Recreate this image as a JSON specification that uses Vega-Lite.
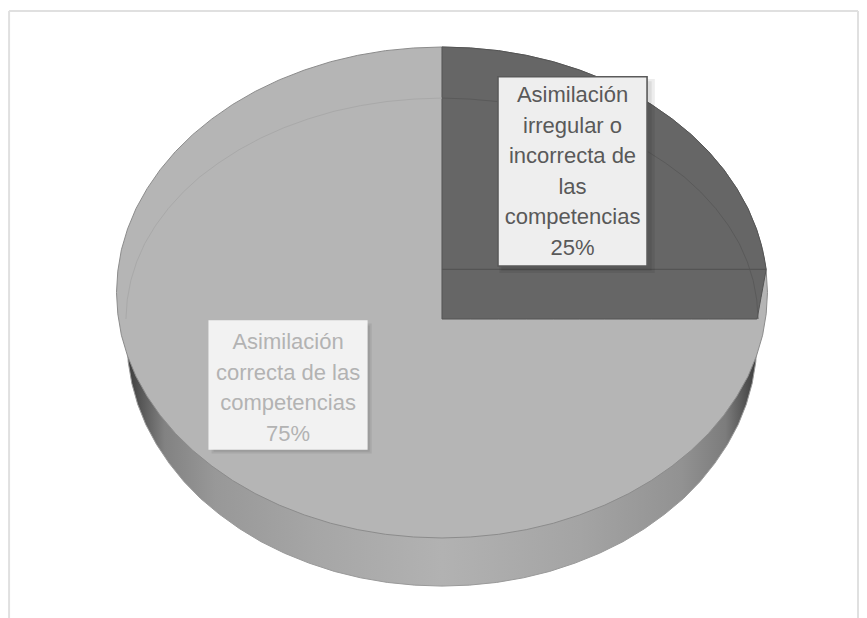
{
  "$schema": "https://vega.github.io/schema/vega-lite/v6.json",
  "width": 867,
  "height": 618,
  "padding": 0,
  "autosize": "none",
  "background": "#ffffff",
  "config": {"view": {"stroke": null}},
  "encoding": {
    "x": {"field": "x", "type": "quantitative", "axis": null, "scale": {"domain": [-135.79, 130.57], "nice": false, "zero": false}},
    "y": {"field": "y", "type": "quantitative", "axis": null, "scale": {"domain": [-132.59, 119.14], "nice": false, "zero": false}}
  },
  "layer": [
    {
      "data": {"values": [
        {"x": -96.8, "y": -19.6, "top": 0}, {"x": -96.4, "y": -28.3, "top": 0}, {"x": -95.3, "y": -37, "top": 0}, {"x": -93.5, "y": -45.5, "top": 0}, {"x": -91, "y": -53.8, "top": 0}, {"x": -87.7, "y": -61.9, "top": 0}, {"x": -83.8, "y": -69.6, "top": 0}, {"x": -79.3, "y": -77, "top": 0}, {"x": -74.2, "y": -83.9, "top": 0}, {"x": -68.4, "y": -90.3, "top": 0}, {"x": -62.2, "y": -96.2, "top": 0}, {"x": -55.6, "y": -101.5, "top": 0}, {"x": -48.4, "y": -106.2, "top": 0}, {"x": -40.9, "y": -110.2, "top": 0}, {"x": -33.1, "y": -113.6, "top": 0}, {"x": -25.1, "y": -116.2, "top": 0}, {"x": -16.8, "y": -118.1, "top": 0}, {"x": -8.4, "y": -119.2, "top": 0},
        {"x": 0, "y": -119.6, "top": 0},
        {"x": 8.4, "y": -119.2, "top": 0}, {"x": 16.8, "y": -118.1, "top": 0}, {"x": 25.1, "y": -116.2, "top": 0}, {"x": 33.1, "y": -113.6, "top": 0}, {"x": 40.9, "y": -110.2, "top": 0}, {"x": 48.4, "y": -106.2, "top": 0}, {"x": 55.6, "y": -101.5, "top": 0}, {"x": 62.2, "y": -96.2, "top": 0}, {"x": 68.4, "y": -90.3, "top": 0}, {"x": 74.2, "y": -83.9, "top": 0}, {"x": 79.3, "y": -77, "top": 0}, {"x": 83.8, "y": -69.6, "top": 0}, {"x": 87.7, "y": -61.9, "top": 0}, {"x": 91, "y": -53.8, "top": 0}, {"x": 93.5, "y": -45.5, "top": 0}, {"x": 95.3, "y": -37, "top": 0}, {"x": 96.4, "y": -28.3, "top": 0}, {"x": 96.8, "y": -19.6, "top": 0}
      ]},
      "mark": {
        "type": "area", "orient": "vertical", "stroke": "#9a9a9a", "strokeWidth": 1,
        "color": {
          "gradient": "linear", "x1": 0, "x2": 1, "y1": 0, "y2": 0,
          "stops": [
            {"offset": 0, "color": "#3a3a3a"},
            {"offset": 0.025, "color": "#5a5a5a"},
            {"offset": 0.06, "color": "#828282"},
            {"offset": 0.14, "color": "#989898"},
            {"offset": 0.3, "color": "#a6a6a6"},
            {"offset": 0.5, "color": "#b2b2b2"},
            {"offset": 0.72, "color": "#a4a4a4"},
            {"offset": 0.88, "color": "#929292"},
            {"offset": 0.95, "color": "#7c7c7c"},
            {"offset": 0.98, "color": "#555555"},
            {"offset": 1, "color": "#3a3a3a"}
          ]
        }
      },
      "encoding": {"y2": {"field": "top"}}
    },
    {
      "data": {"values": [
        {"x": -100, "y": 0, "low": 0},
        {"x": -99.6, "y": 8.7, "low": -8.7}, {"x": -98.5, "y": 17.4, "low": -17.4}, {"x": -96.6, "y": 25.9, "low": -25.9}, {"x": -94, "y": 34.2, "low": -34.2}, {"x": -90.6, "y": 42.3, "low": -42.3}, {"x": -86.6, "y": 50, "low": -50}, {"x": -81.9, "y": 57.4, "low": -57.4}, {"x": -76.6, "y": 64.3, "low": -64.3}, {"x": -70.7, "y": 70.7, "low": -70.7}, {"x": -64.3, "y": 76.6, "low": -76.6}, {"x": -57.4, "y": 81.9, "low": -81.9}, {"x": -50, "y": 86.6, "low": -86.6}, {"x": -42.3, "y": 90.6, "low": -90.6}, {"x": -34.2, "y": 94, "low": -94}, {"x": -25.9, "y": 96.6, "low": -96.6}, {"x": -17.4, "y": 98.5, "low": -98.5}, {"x": -8.7, "y": 99.6, "low": -99.6},
        {"x": 0, "y": 100, "low": -100},
        {"x": 8.7, "y": 99.6, "low": -99.6}, {"x": 17.4, "y": 98.5, "low": -98.5}, {"x": 25.9, "y": 96.6, "low": -96.6}, {"x": 34.2, "y": 94, "low": -94}, {"x": 42.3, "y": 90.6, "low": -90.6}, {"x": 50, "y": 86.6, "low": -86.6}, {"x": 57.4, "y": 81.9, "low": -81.9}, {"x": 64.3, "y": 76.6, "low": -76.6}, {"x": 70.7, "y": 70.7, "low": -70.7}, {"x": 76.6, "y": 64.3, "low": -64.3}, {"x": 81.9, "y": 57.4, "low": -57.4}, {"x": 86.6, "y": 50, "low": -50}, {"x": 90.6, "y": 42.3, "low": -42.3}, {"x": 94, "y": 34.2, "low": -34.2}, {"x": 96.6, "y": 25.9, "low": -25.9}, {"x": 98.5, "y": 17.4, "low": -17.4}, {"x": 99.6, "y": 8.7, "low": -8.7},
        {"x": 100, "y": 0, "low": 0}
      ]},
      "mark": {"type": "area", "orient": "vertical", "color": "#b5b5b5", "stroke": "#8c8c8c", "strokeWidth": 1},
      "encoding": {"y2": {"field": "low"}}
    },
    {
      "data": {"values": [
        {"x": 0, "y": 100, "low": -10.8}, {"x": 8.7, "y": 99.6, "low": -10.8}, {"x": 17.4, "y": 98.5, "low": -10.8}, {"x": 25.9, "y": 96.6, "low": -10.8}, {"x": 34.2, "y": 94, "low": -10.8}, {"x": 42.3, "y": 90.6, "low": -10.8}, {"x": 50, "y": 86.6, "low": -10.8}, {"x": 57.4, "y": 81.9, "low": -10.8}, {"x": 64.3, "y": 76.6, "low": -10.8}, {"x": 70.7, "y": 70.7, "low": -10.8}, {"x": 76.6, "y": 64.3, "low": -10.8}, {"x": 81.9, "y": 57.4, "low": -10.8}, {"x": 86.6, "y": 50, "low": -10.8}, {"x": 90.6, "y": 42.3, "low": -10.8}, {"x": 94, "y": 34.2, "low": -10.8}, {"x": 96.6, "y": 25.9, "low": -10.8}, {"x": 96.8, "y": 25.1, "low": -10.8}, {"x": 98, "y": 19.9, "low": -2.1}, {"x": 99, "y": 14.1, "low": 5.1}, {"x": 99.6, "y": 9.4, "low": 9.4}
      ]},
      "mark": {"type": "area", "orient": "vertical", "color": "#666666", "stroke": "#545454", "strokeWidth": 1},
      "encoding": {"y2": {"field": "low"}}
    },
    {
      "data": {"values": [
        {"x": -97.1, "y": -10.8}, {"x": -96.7, "y": -3}, {"x": -95.6, "y": 4.9}, {"x": -93.8, "y": 12.5}, {"x": -91.3, "y": 20}, {"x": -88, "y": 27.3}, {"x": -84.1, "y": 34.2}, {"x": -79.5, "y": 40.9}, {"x": -74.4, "y": 47.1}, {"x": -68.6, "y": 52.8}, {"x": -62.4, "y": 58.1}, {"x": -55.7, "y": 62.9}, {"x": -48.6, "y": 67.1}, {"x": -41.1, "y": 70.7}, {"x": -33.2, "y": 73.8}, {"x": -25.1, "y": 76.1}, {"x": -16.9, "y": 77.8}, {"x": -8.4, "y": 78.8}, {"x": 0, "y": 79.2}
      ]},
      "mark": {"type": "line", "color": "#a9a9a9", "strokeWidth": 1}
    },
    {
      "data": {"values": [
        {"x": 0, "y": 79.2}, {"x": 8.4, "y": 78.8}, {"x": 16.9, "y": 77.8}, {"x": 25.1, "y": 76.1}, {"x": 33.2, "y": 73.8}, {"x": 41.1, "y": 70.7}, {"x": 48.6, "y": 67.1}, {"x": 55.7, "y": 62.9}, {"x": 62.4, "y": 58.1}, {"x": 68.6, "y": 52.8}, {"x": 74.4, "y": 47.1}, {"x": 79.5, "y": 40.9}, {"x": 84.1, "y": 34.2}, {"x": 88, "y": 27.3}, {"x": 91.3, "y": 20}, {"x": 93.8, "y": 12.5}, {"x": 95.6, "y": 4.9}, {"x": 96.7, "y": -3}, {"x": 97.1, "y": -10.8}
      ]},
      "mark": {"type": "line", "color": "#5a5a5a", "strokeWidth": 1}
    },
    {
      "data": {"values": [{"x": 0, "x2": 99.6, "y": 9.4, "y2": 9.4}]},
      "mark": {"type": "rule", "color": "#545454", "strokeWidth": 1.2},
      "encoding": {"x2": {"field": "x2"}, "y2": {"field": "y2"}}
    },
    {
      "data": {"values": [
        {"x": 17.6, "x2": 65.4, "y": 87.0, "y2": 7.9},
        {"x": 18.2, "x2": 64.4, "y": 86.0, "y2": 8.9},
        {"x": -70.8, "x2": -21.6, "y": -12.6, "y2": -65.6},
        {"x": -70.2, "x2": -22.2, "y": -13.4, "y2": -64.9}
      ]},
      "mark": {"type": "rect", "color": "#000000", "opacity": 0.07},
      "encoding": {"x2": {"field": "x2"}, "y2": {"field": "y2"}}
    },
    {
      "data": {"values": [
        {"x": 17.2, "x2": 63, "y": 87.9, "y2": 10.8, "tone": "#eeeeee", "edge": "#5a5a5a"},
        {"x": -71.5, "x2": -23.1, "y": -11.6, "y2": -63.7, "tone": "#f2f2f2", "edge": "#f2f2f2"}
      ]},
      "mark": {"type": "rect", "strokeWidth": 1.6},
      "encoding": {
        "x2": {"field": "x2"},
        "y2": {"field": "y2"},
        "fill": {"field": "tone", "type": "nominal", "scale": null},
        "stroke": {"field": "edge", "type": "nominal", "scale": null}
      }
    },
    {
      "data": {"values": [
        {"x": 40.1, "y": 80.4, "label": "Asimilación\nirregular o\nincorrecta de\nlas\ncompetencias\n25%", "ink": "#595959"},
        {"x": -47.3, "y": -20.2, "label": "Asimilación\ncorrecta de las\ncompetencias\n75%", "ink": "#b3b3b3"}
      ]},
      "mark": {"type": "text", "font": "Liberation Sans", "fontSize": 22, "lineBreak": "\n", "lineHeight": 30.5, "align": "center", "baseline": "middle"},
      "encoding": {
        "text": {"field": "label", "type": "nominal"},
        "color": {"field": "ink", "type": "nominal", "scale": null}
      }
    },
    {
      "data": {"values": [
        {"x": -133, "x2": -133, "y": 114.7, "y2": -132.59},
        {"x": -133, "x2": 127.8, "y": 114.7, "y2": 114.7},
        {"x": 127.8, "x2": 127.8, "y": 114.7, "y2": -132.59}
      ]},
      "mark": {"type": "rule", "color": "#e0e0e0", "strokeWidth": 2},
      "encoding": {"x2": {"field": "x2"}, "y2": {"field": "y2"}}
    }
  ],
  "resolve": {"scale": {"x": "shared", "y": "shared"}}
}
